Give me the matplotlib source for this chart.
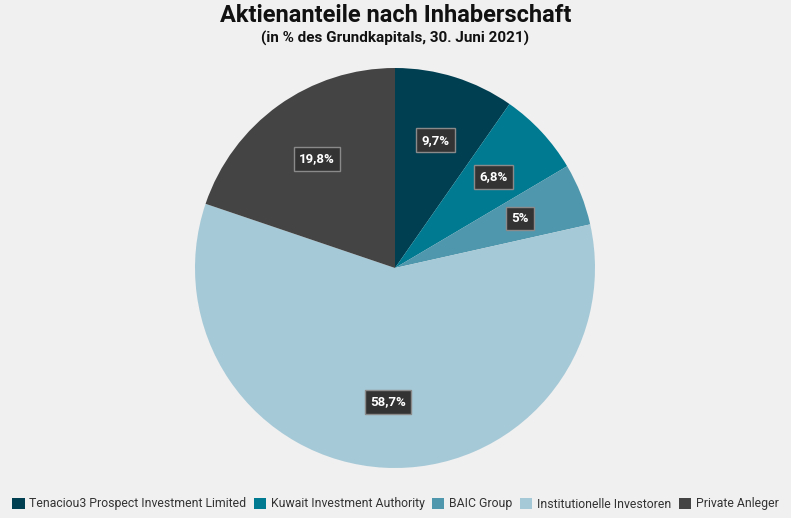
import matplotlib
matplotlib.use("Agg")
import matplotlib.pyplot as plt
from matplotlib.patches import Patch
import numpy as np

labels = ["Tenaciou3 Prospect Investment Limited", "Kuwait Investment Authority",
          "BAIC Group", "Institutionelle Investoren", "Private Anleger"]
shares = [9.7, 6.8, 5.0, 58.7, 19.8]
share_text = ["9,7%", "6,8%", "5%", "58,7%", "19,8%"]
colors = ["#003f52", "#007a91", "#4f97ad", "#a6c9d7", "#444444"]

plt.rcParams['font.family'] = ['Roboto', 'DejaVu Sans']
bg = "#f0f0f0"

fig = plt.figure(figsize=(7.91, 5.18), dpi=100, facecolor=bg)
cx, cy, r = 395, 268, 200
ax = fig.add_axes([(cx - r) / 791, (518 - cy - r) / 518, 2 * r / 791, 2 * r / 518])
ax.set_facecolor(bg)

wedges, _ = ax.pie(shares, colors=colors, startangle=90, counterclock=False,
                   wedgeprops={'linewidth': 0})
ax.set_aspect('equal')
ax.set_xlim(-1, 1)
ax.set_ylim(-1, 1)

# percentage boxes inside each slice
cum = 0
for s, t in zip(shares, share_text):
    mid = 90 - (cum + s / 2) * 3.6
    cum += s
    d = 0.67
    x = d * np.cos(np.radians(mid))
    y = d * np.sin(np.radians(mid))
    ax.text(x, y, t, ha='center', va='center', color='white', fontsize=9.5,
            fontweight='bold',
            bbox=dict(boxstyle='square,pad=0.4', facecolor='#333333',
                      edgecolor='#8a8a8a', linewidth=1))

fig.text(0.5, 1 - 15 / 518, "Aktienanteile nach Inhaberschaft", ha='center', va='center',
         fontsize=17, fontweight='bold', color='#111111')
fig.text(0.5, 1 - 38 / 518, "(in % des Grundkapitals, 30. Juni 2021)", ha='center',
         va='center', fontsize=11, fontweight='bold', color='#111111')

handles = [Patch(facecolor=c, edgecolor='none') for c in colors]
fig.legend(handles, labels, loc='center', bbox_to_anchor=(0.5, 1 - 504 / 518), ncol=5,
           frameon=False, fontsize=8.8, handlelength=1.0, handleheight=1.0,
           handletextpad=0.4, columnspacing=0.6, labelcolor='#333333',
           borderaxespad=0, borderpad=0)

fig.savefig("out.png", dpi=100, facecolor=bg)
